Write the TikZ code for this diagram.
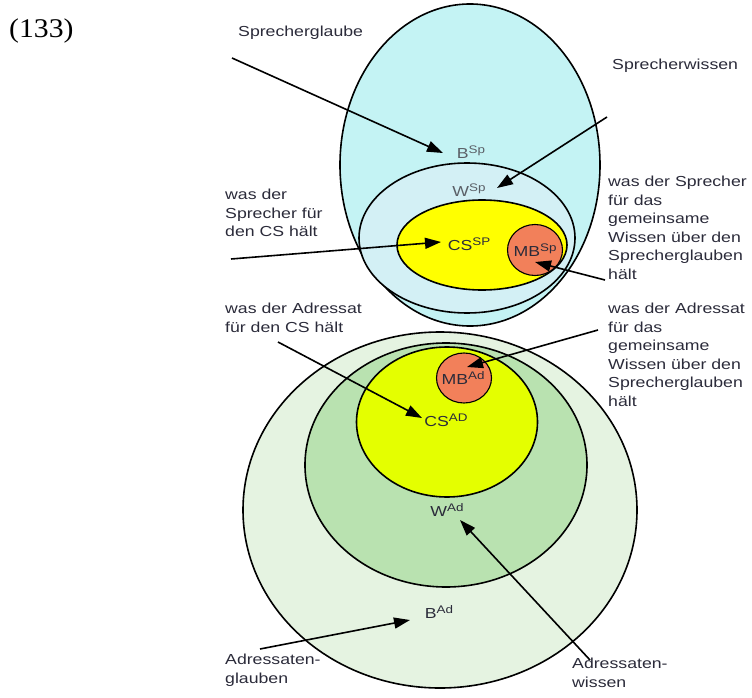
\documentclass[tikz,border=0pt]{standalone}
\usepackage{fontspec}
\setmainfont{Liberation Sans}[FakeStretch=1.22]
\newfontfamily\numfont{Liberation Serif}[FakeStretch=1.1]
\usetikzlibrary{arrows.meta,shapes.geometric}
\definecolor{spouter}{HTML}{C4F3F4}
\definecolor{spinner}{HTML}{D3F0F5}
\definecolor{csyellow}{HTML}{FFFF00}
\definecolor{mborange}{HTML}{F2805A}
\definecolor{adouter}{HTML}{E5F3E1}
\definecolor{adinner}{HTML}{B9E2B0}
\definecolor{adyellow}{HTML}{E4FF00}
\definecolor{ink}{HTML}{2B2B3A}
\definecolor{greyink}{HTML}{5A5F66}
% raised index of a region label
\newcommand\regidx[1]{\raisebox{0.33em}{\fontsize{11}{11}\selectfont #1}}
\begin{document}
\begin{tikzpicture}[x=1pt,y=-1pt,
  region/.style={ellipse,draw=black,line width=1.6pt,inner sep=0pt},
  lbl/.style={inner sep=0pt,text=ink,font=\fontsize{14.5}{18.5}\selectfont},
  note/.style={lbl,align=left,anchor=north west},
  arr/.style={line width=1.6pt,-{Triangle[length=16pt,width=11pt]}}]
\useasboundingbox (0,0) rectangle (752,698);

% speaker side
\node[region,fill=spouter,minimum width=260pt,minimum height=322pt] (bsp) at (470,165) {};
\node[region,fill=spinner,minimum width=216pt,minimum height=150pt] (wsp) at (467,238) {};
\node[region,fill=csyellow,minimum width=170pt,minimum height=90pt] (cssp) at (482,245) {};
\node[region,fill=mborange,line width=1.1pt,minimum width=55pt,minimum height=51pt] (mbsp) at (535,250) {};

% addressee side
\node[region,fill=adouter,minimum width=394pt,minimum height=356pt] (bad) at (440,510) {};
\node[region,fill=adinner,minimum width=282pt,minimum height=244pt] (wad) at (446,465) {};
\node[region,fill=adyellow,minimum width=181pt,minimum height=150pt] (csad) at (447,422) {};
\node[region,fill=mborange,line width=1.1pt,minimum width=55pt,minimum height=50pt] (mbad) at (464,378) {};

% region labels
\node[lbl,text=greyink] (lbsp) at (471,152) {B\regidx{Sp}};
\node[lbl,text=greyink] (lwsp) at (469,190) {W\regidx{Sp}};
\node[lbl] (lcssp) at (469,244) {CS\regidx{SP}};
\node[lbl] (lmbsp) at (535,250) {MB\regidx{Sp}};
\node[lbl] (lcsad) at (446,420) {CS\regidx{AD}};
\node[lbl] (lmbad) at (463,378) {MB\regidx{Ad}};
\node[lbl] (lwad) at (447,510) {W\regidx{Ad}};
\node[lbl] (lbad) at (439,612) {B\regidx{Ad}};

% captions
\node[inner sep=0pt,anchor=west,font=\numfont\fontsize{27}{30}\selectfont] (num) at (9,31) {(133)};
\node[note] (n1) at (238,26) {Sprecherglaube};
\node[note] (n2) at (612,59) {Sprecherwissen};
\node[note] (n3) at (225,189) {was der\\Sprecher für\\den CS hält};
\node[note] (n4) at (608,176) {was der Sprecher\\für das\\gemeinsame\\Wissen über den\\Sprecherglauben\\hält};
\node[note] (n5) at (225,303) {was der Adressat\\für den CS hält};
\node[note] (n6) at (608,303) {was der Adressat\\für das\\gemeinsame\\Wissen über den\\Sprecherglauben\\hält};
\node[note] (n7) at (225,654) {Adressaten-\\glauben};
\node[note] (n8) at (572,658) {Adressaten-\\wissen};

% arrows from captions to regions
\coordinate (s1) at (232,58);  \coordinate (e1) at (443,153);
\coordinate (s2) at (607,117); \coordinate (e2) at (497,188);
\coordinate (s3) at (231,259); \coordinate (e3) at (441,242);
\coordinate (s4) at (605,280); \coordinate (e4) at (535,262);
\coordinate (s5) at (278,342); \coordinate (e5) at (422,418);
\coordinate (s6) at (598,330); \coordinate (e6) at (467,367);
\coordinate (s7) at (590,660); \coordinate (e7) at (460,520);
\coordinate (s8) at (260,649); \coordinate (e8) at (410,620);
\foreach \i in {1,...,8} \draw[arr] (s\i) -- (e\i);
\end{tikzpicture}
\end{document}
